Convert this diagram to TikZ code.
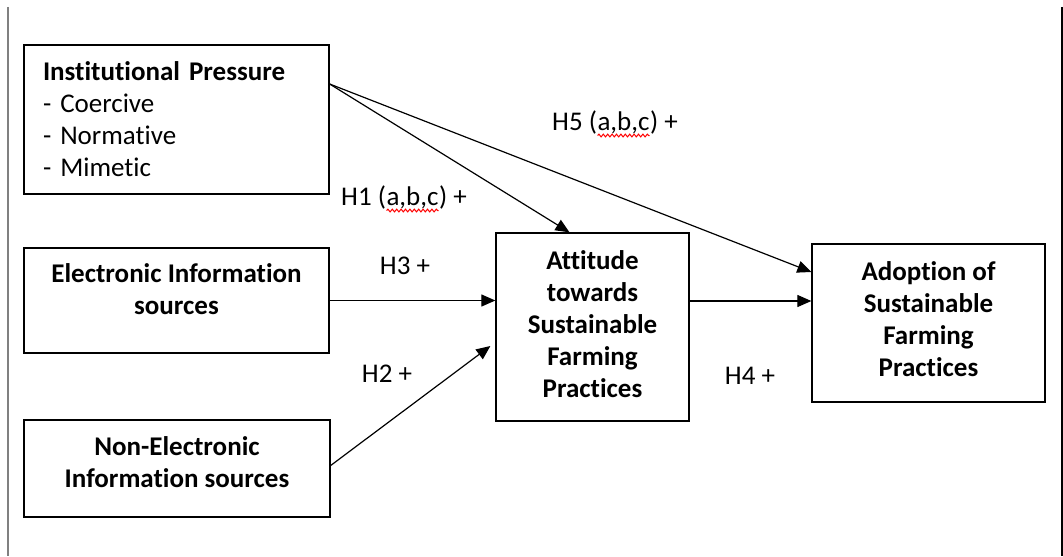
\documentclass[tikz,border=0pt]{standalone}
\usepackage{fontspec}
\setmainfont{Carlito}[Ligatures=NoCommon]
\usetikzlibrary{arrows.meta,decorations.pathmorphing}

% red wavy underline as left by the spell checker
\newcommand{\spellwave}[1]{\tikz[baseline=(w.base)]{\node[inner sep=0pt,outer sep=0pt] (w) {#1};
    \draw[red,line width=0.5pt,decorate,decoration={snake,amplitude=0.7pt,segment length=2.2pt}]
      ([yshift=-2.6pt]w.base west) -- ([yshift=-2.6pt]w.base east);}}

\begin{document}
\begin{tikzpicture}[x=0.5pt,y=-0.5pt,
    font=\fontsize{13.5}{16}\selectfont,
    box/.style={draw,line width=0.65pt,inner sep=0pt},
    boxtext/.style={inner sep=0pt,align=center,font=\fontsize{13.5}{16}\selectfont\bfseries},
    arr/.style={-{Triangle[length=7pt,width=6pt]},line width=0.6pt},
    hyp/.style={inner sep=0pt}]
      \useasboundingbox (0,0) rectangle (1063,556);

      % Draw the page edges
      \draw[gray,line width=0.6pt] (8,7) -- (8,556);
      \draw[line width=1pt] (1061.5,7) -- (1061.5,556);

      % Draw the boxes
      \node[box,minimum width=152.5pt,minimum height=74.5pt,text width=133.5pt,align=left]
        (inst) at (176.5,119.5) {\textbf{Institutional Pressure}\\- Coercive\\- Normative\\- Mimetic};
      \node[box,minimum width=152.5pt,minimum height=52.5pt] (elec) at (176.5,300.5) {};
      \node[box,minimum width=153pt,minimum height=48.5pt] (nonel) at (177,468.5) {};
      \node[box,minimum width=96.5pt,minimum height=94pt] (att) at (592.5,327) {};
      \node[box,minimum width=116.5pt,minimum height=79pt] (adopt) at (928.5,323) {};

      % Put the text in the boxes (a little above the middle)
      \node[boxtext] (elec-t) at ([yshift=5.5pt]elec.center) {Electronic Information\\sources};
      \node[boxtext] (nonel-t) at ([yshift=3.25pt]nonel.center) {Non-Electronic\\Information sources};
      \node[boxtext] (att-t) at ([yshift=1.5pt]att.center) {Attitude\\towards\\Sustainable\\Farming\\Practices};
      \node[boxtext] (adopt-t) at ([yshift=1.75pt]adopt.center) {Adoption of\\Sustainable\\Farming\\Practices};

      % Draw the arrows between the boxes
      \draw[arr] ([yshift=17.75pt]inst.east) -- ([xshift=-11.5pt]att.north);
      \draw[arr] ([yshift=17.75pt]inst.east) -- ([yshift=25.5pt]adopt.west);
      \draw[arr] (elec.east) -- (elec.east -| att.west);
      \draw[arr] ([yshift=1.5pt]nonel.east) -- ([shift={(-2.5pt,-9.5pt)}]att.west);
      \draw[arr] ([yshift=13pt]att.east) -- ([yshift=13pt]att.east -| adopt.west);

      % Add the hypothesis labels
      \node[hyp] (h5) at (615,124) {H5 (\spellwave{a,b,c}) +};
      \node[hyp] (h1) at (404,199) {H1 (\spellwave{a,b,c}) +};
      \node[hyp] (h3) at (405,266) {H3 +};
      \node[hyp] (h2) at (387,374) {H2 +};
      \node[hyp] (h4) at (750,376) {H4 +};
    \end{tikzpicture}
\end{document}
